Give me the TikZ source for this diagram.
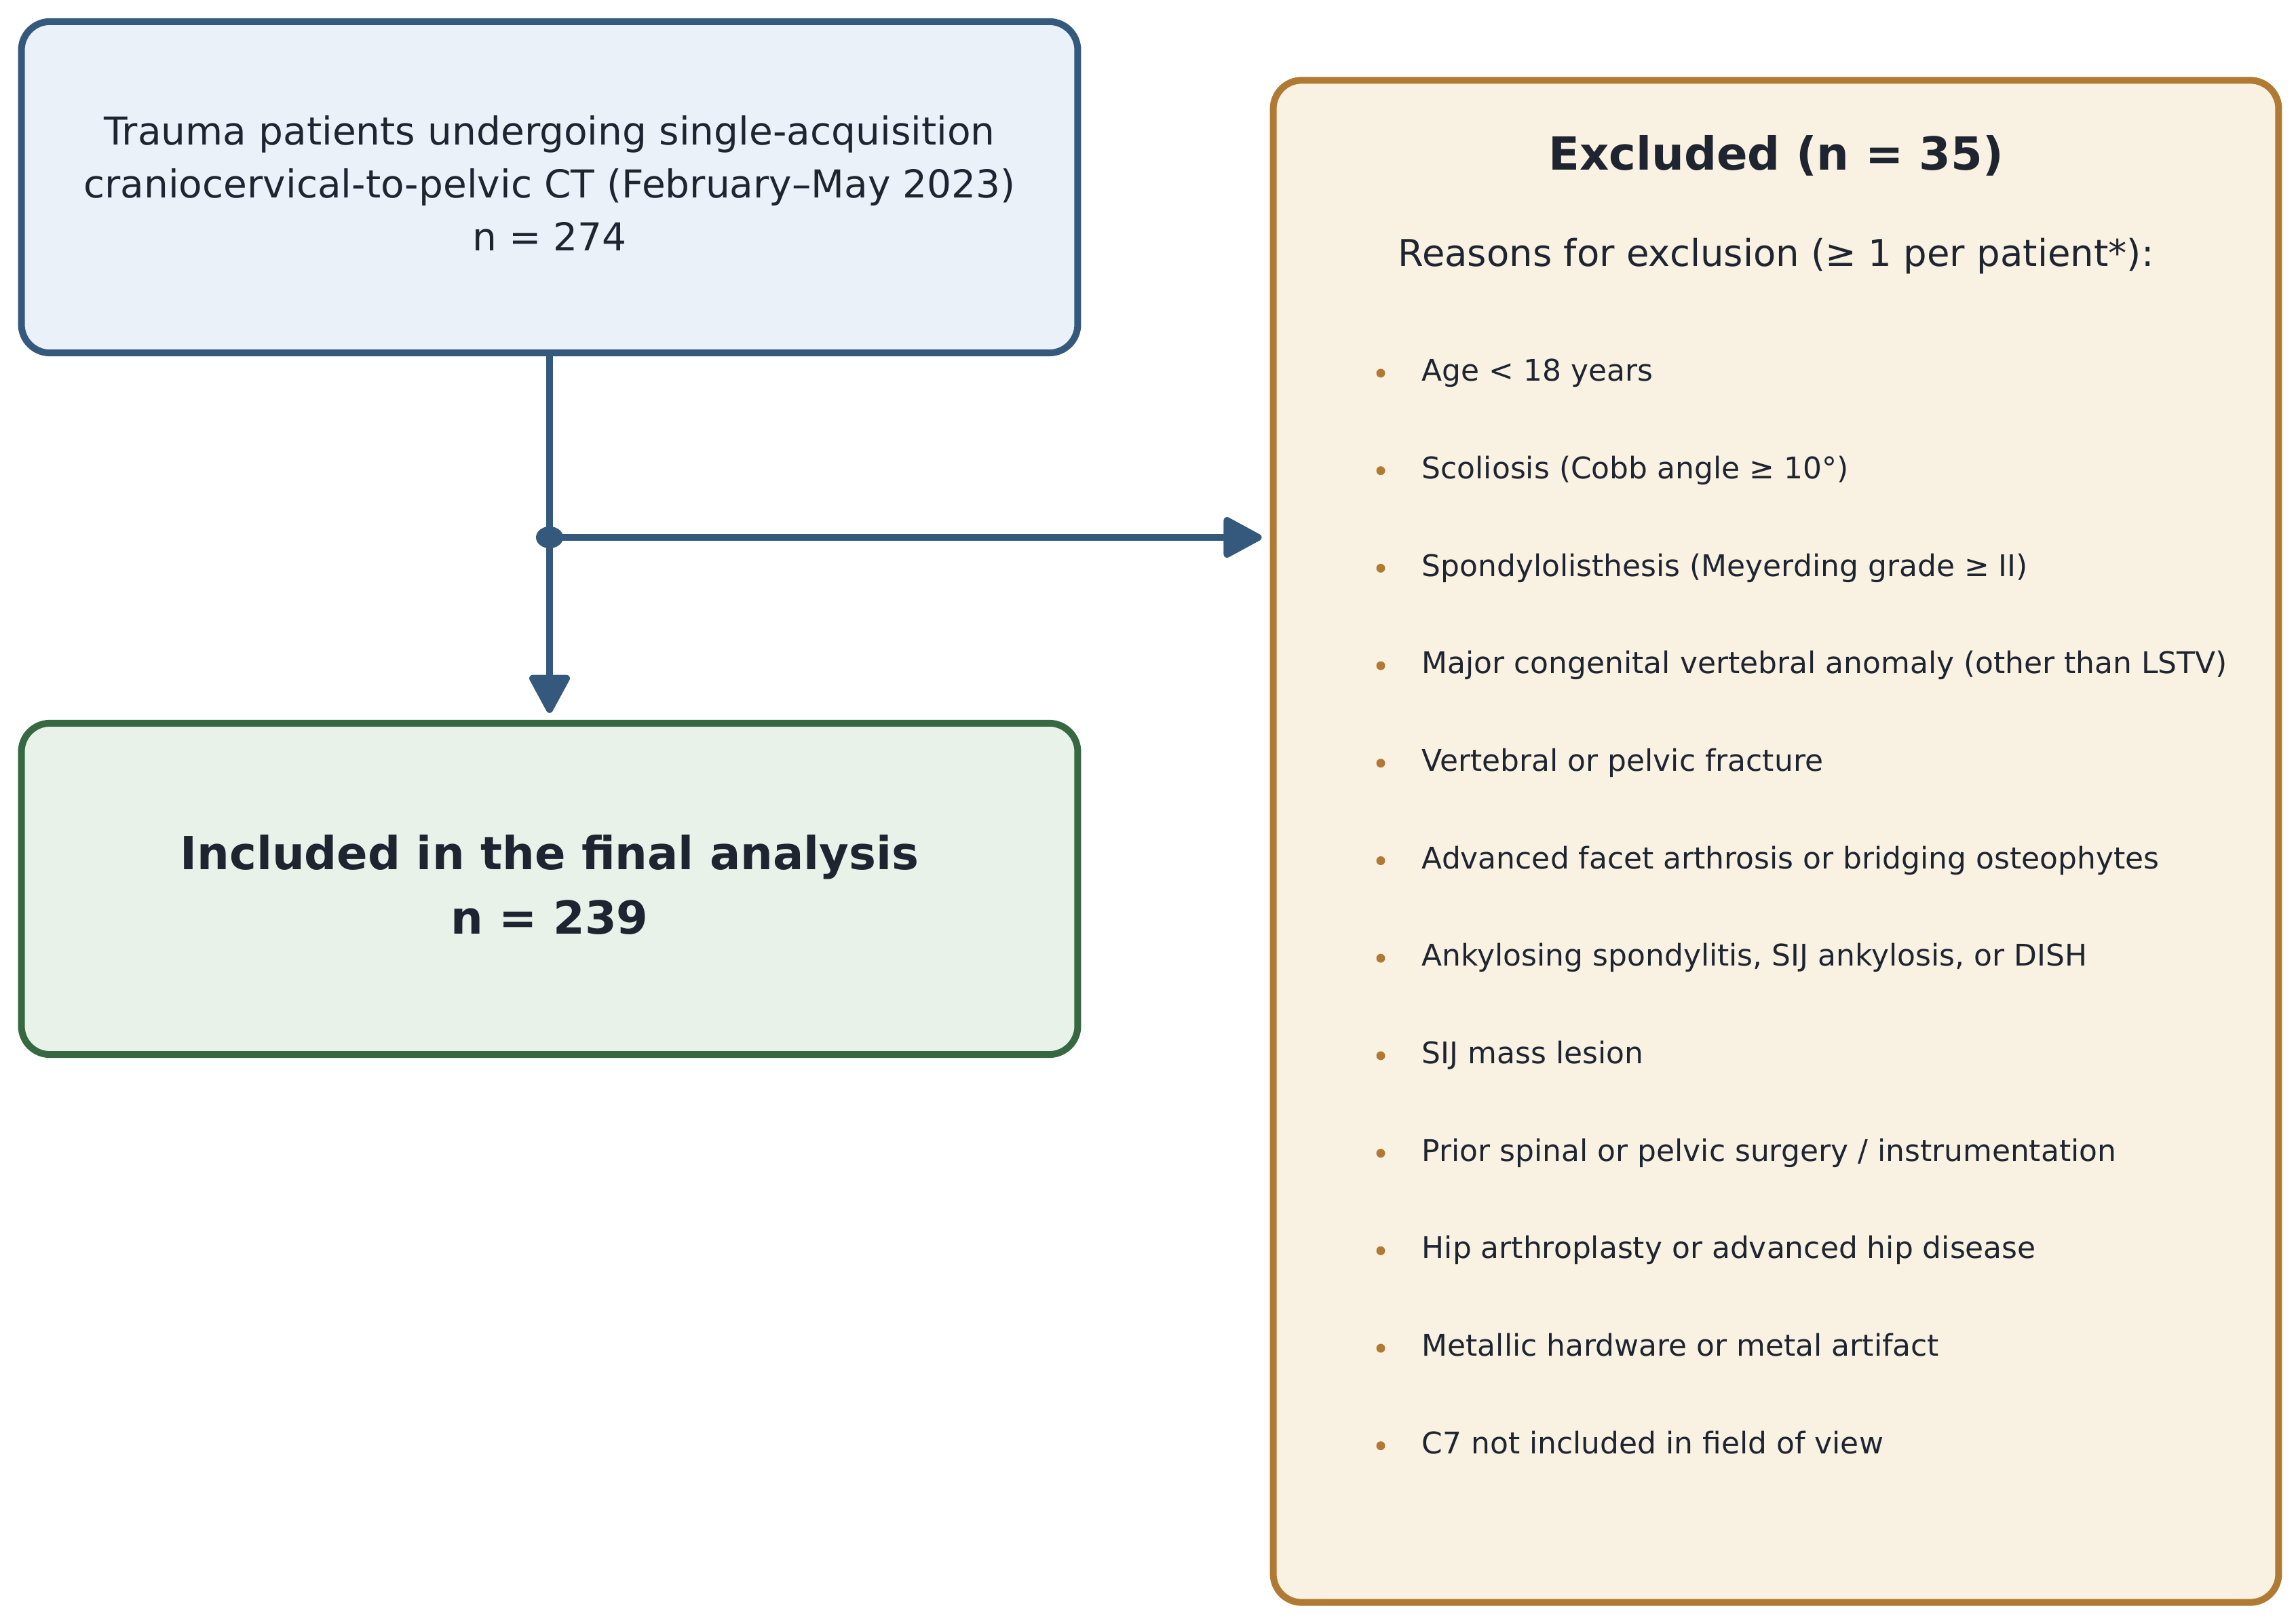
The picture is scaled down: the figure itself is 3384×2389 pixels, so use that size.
\documentclass[tikz,border=0pt]{standalone}
\usepackage{fontspec}
\setmainfont{DejaVu Sans}
\usetikzlibrary{arrows.meta}
\definecolor{flowblue}{RGB}{52,89,125}
\definecolor{fillblue}{RGB}{234,241,248}
\definecolor{flowgreen}{RGB}{54,104,66}
\definecolor{fillgreen}{RGB}{233,242,233}
\definecolor{flowbrown}{RGB}{176,122,52}
\definecolor{fillbrown}{RGB}{249,241,226}
\definecolor{inktext}{RGB}{31,37,48}
\tikzset{
	box/.style={draw, rounded corners=0.42cm, line width=0.1cm, align=center, text=inktext, inner sep=0pt},
	flow/.style={draw=flowblue, line width=0.1cm, -{Triangle[round, length=0.62cm, width=0.64cm]}},
	reason/.style={anchor=west, text=inktext, font=\fontsize{12.5}{15}\selectfont, text height=0.75em, text depth=0.2em, inner sep=0pt},
}
\begin{document}
\begin{tikzpicture}[x=0.01cm, y=-0.01cm]
		\useasboundingbox (0,0) rectangle (3384,2389);
		
		\node[box, draw=flowblue, fill=fillblue, minimum width=15.56cm, minimum height=4.88cm] (screen) at (810,276) {};
		\node[text=inktext, align=center, font=\fontsize{16.1}{22.2}\selectfont] (screentxt) at (810,270)
			{Trauma patients undergoing single-acquisition\\craniocervical-to-pelvic CT (February–May 2023)\\n = 274};
		\node[box, draw=flowgreen, fill=fillgreen, minimum width=15.56cm, minimum height=4.88cm] (incl) at (810,1310) {};
		\node[text=inktext, align=center, font=\bfseries\fontsize{19.1}{27}\selectfont] (incltxt) at (810,1304)
			{Included in the final analysis\\n = 239};
		\node[box, draw=flowbrown, fill=fillbrown, minimum width=14.81cm, minimum height=22.42cm] (excl) at (2617.5,1240) {};
		
		\node[text=inktext, font=\bfseries\fontsize{19.1}{22}\selectfont] (title) at (2617.5,229) {Excluded (n = 35)};
		\node[text=inktext, font=\fontsize{15.5}{18}\selectfont] (reasons) at (2617.5,377) {Reasons for exclusion (≥ 1 per patient*):};
		
		\foreach \txt [count=\i] in {{Age < 18 years}, {Scoliosis (Cobb angle ≥ 10°)}, {Spondylolisthesis (Meyerding grade ≥ II)},
			{Major congenital vertebral anomaly (other than LSTV)}, {Vertebral or pelvic fracture},
			{Advanced facet arthrosis or bridging osteophytes}, {Ankylosing spondylitis, SIJ ankylosis, or DISH},
			{SIJ mass lesion}, {Prior spinal or pelvic surgery / instrumentation}, {Hip arthroplasty or advanced hip disease},
			{Metallic hardware or metal artifact}, {C7 not included in field of view}}
		{
			\node[reason] (r\i) at (2095, {552+143.7*(\i-1)}) {\txt};
			\fill[flowbrown] (2035, {550+143.7*(\i-1)}) circle (0.065cm);
		}
		
		\coordinate (split) at (810,792);
		\draw[flow, shorten >=0.1cm] (screen.south) -- (incl.north);
		\draw[flow, shorten >=0.12cm] (split) -- (split -| excl.west);
		\fill[flowblue] (split) ellipse (0.2cm and 0.16cm);
	\end{tikzpicture}
\end{document}
